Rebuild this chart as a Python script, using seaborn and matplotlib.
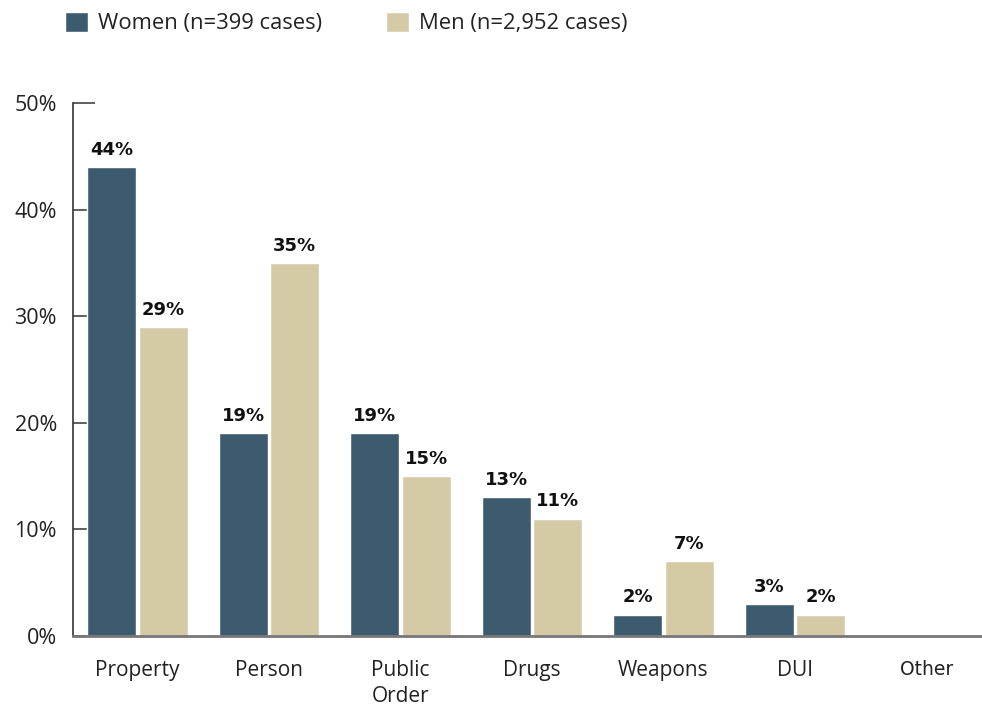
import matplotlib
matplotlib.use("Agg")
import matplotlib.pyplot as plt
import seaborn as sns
import pandas as pd

categories = ["Property", "Person", "Public\nOrder", "Drugs", "Weapons", "DUI", "Other"]
women = [44, 19, 19, 13, 2, 3, 0]
men = [29, 35, 15, 11, 7, 2, 0]
series_names = ["Women (n=399 cases)", "Men (n=2,952 cases)"]
colors = ["#3d5b6e", "#d4caa5"]
y_ticks = [0, 10, 20, 30, 40, 50]

sns.set_theme(style="white")
plt.rcParams["font.family"] = ["Open Sans", "DejaVu Sans"]

df = pd.DataFrame({
    "category": categories * 2,
    "value": women + men,
    "group": [series_names[0]] * len(categories) + [series_names[1]] * len(categories),
})

fig = plt.figure(figsize=(9.82, 7.06), dpi=100)
ax = fig.add_axes([73 / 982, 70 / 706, 1 - 73 / 982, (636 - 103) / 706])

sns.barplot(data=df, x="category", y="value", hue="group", order=categories,
            hue_order=series_names, palette=colors, width=0.78, gap=0.045,
            saturation=1, errorbar=None, ax=ax, zorder=3)

handles, labels = ax.get_legend_handles_labels()
ax.get_legend().remove()

for cont in ax.containers:
    labs = [f"{b.get_height():.0f}%" if b.get_height() > 0 else "" for b in cont]
    ax.bar_label(cont, labels=labs, padding=6, fontsize=13, fontweight="bold",
                 family="DejaVu Sans", color="#111111")

ax.set_ylim(0, 50)
ax.set_xlim(-0.49, -0.49 + 909 / 131.5)
ax.set_yticks(y_ticks)
ax.set_yticklabels([f"{t}%" for t in y_ticks])
ax.set_xlabel("")
ax.set_ylabel("")

ax.tick_params(axis="y", direction="in", length=16, width=1.2, color="#444444",
               labelsize=15.5, pad=11.5, labelcolor="#222222", left=True)
ax.tick_params(axis="x", length=0, labelsize=15, pad=17, labelcolor="#222222")
for t in ax.get_xticklabels():
    t.set_linespacing(1.35)

for sp in ["top", "right"]:
    ax.spines[sp].set_visible(False)
ax.spines["left"].set_color("#333333")
ax.spines["left"].set_linewidth(1.2)
ax.spines["bottom"].set_color("#777777")
ax.spines["bottom"].set_linewidth(2)
ax.spines["left"].set_zorder(4)
ax.spines["bottom"].set_zorder(4)

other = ax.get_xticklabels()[-1]
other.set_fontsize(13.5)
other.set_family("DejaVu Sans")

leg = fig.legend(handles, labels, loc="upper left",
                 bbox_to_anchor=(65 / 982, 1 - 12 / 706), ncol=2, frameon=False,
                 fontsize=15.8, handlelength=1.05, handleheight=1.0,
                 handletextpad=0.45, columnspacing=2.9, borderpad=0, borderaxespad=0)
for t in leg.get_texts():
    t.set_color("#222222")

fig.savefig("out.png", dpi=100)
